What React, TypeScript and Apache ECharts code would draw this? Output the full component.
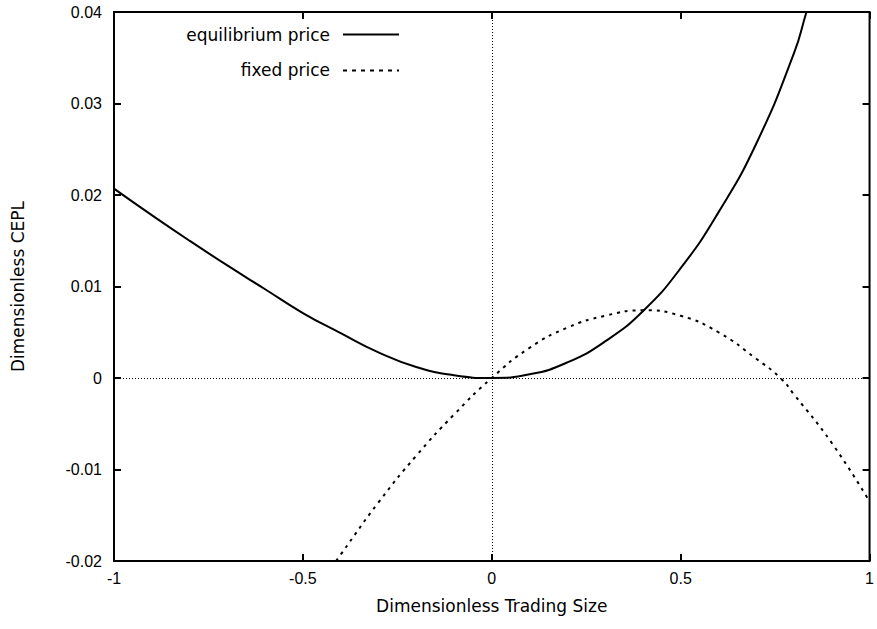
import React, { useEffect, useRef } from "react";
import * as echarts from "echarts";

const eqX = [-1.0, -0.9, -0.8, -0.7, -0.6, -0.5, -0.4, -0.3, -0.2, -0.1, 0, 0.1, 0.2, 0.3, 0.4, 0.5, 0.6, 0.7, 0.8, 0.833, 0.85];
const eqY = [0.0207, 0.0178, 0.0150, 0.0123, 0.0097, 0.0071, 0.0049, 0.0028, 0.0012, 0.0003, 0, 0.0004, 0.0017, 0.0040, 0.0073, 0.0120, 0.0181, 0.0256, 0.0355, 0.0400, 0.0422];

const fixedX = [-0.412, -0.4, -0.3, -0.2, -0.1, 0, 0.1, 0.2, 0.3, 0.4, 0.5, 0.6, 0.7, 0.764, 0.8, 0.9, 1.0];
const fixedY = [-0.0200, -0.0193, -0.0136, -0.0085, -0.0040, 0, 0.0033, 0.0055, 0.0068, 0.0074, 0.0068, 0.0050, 0.0021, 0.0, -0.0018, -0.0071, -0.0135];

const xTicks = [-1, -0.5, 0, 0.5, 1];
const yTicks = [-0.02, -0.01, 0, 0.01, 0.02, 0.03, 0.04];

const seriesNames = ["equilibrium price", "fixed price"];
const xTitle = "Dimensionless Trading Size";
const yTitle = "Dimensionless CEPL";

const FONT = "'Liberation Sans', Arial, Helvetica, sans-serif";
const TFONT = "'DejaVu Sans', sans-serif";
const FS = 16;
const TFS = 17;
const TICK = 7;
const GRID = { left: 114, right: 6, top: 12, bottom: 68 };
const W = 877;
const H = 629;

export default function App() {
  const ref = useRef<HTMLDivElement>(null);
  useEffect(() => {
    if (!ref.current) return;
    const chart = echarts.init(ref.current, null, { renderer: "svg" });
    const xMin = xTicks[0], xMax = xTicks[xTicks.length - 1];
    const yMin = yTicks[0], yMax = yTicks[yTicks.length - 1];
    // tick length expressed in data units so the axes' scales place the ticks
    const tx = (TICK * (xMax - xMin)) / (W - GRID.left - GRID.right);
    const ty = (TICK * (yMax - yMin)) / (H - GRID.top - GRID.bottom);
    const tickLines: any[] = [];
    xTicks.forEach((v) => {
      tickLines.push([{ coord: [v, yMin] }, { coord: [v, yMin + ty] }]);
      tickLines.push([{ coord: [v, yMax] }, { coord: [v, yMax - ty] }]);
    });
    yTicks.forEach((v) => {
      tickLines.push([{ coord: [xMin, v] }, { coord: [xMin + tx, v] }]);
      tickLines.push([{ coord: [xMax, v] }, { coord: [xMax - tx, v] }]);
    });
    chart.setOption({
      animation: false,
      backgroundColor: "#fff",
      textStyle: { fontFamily: FONT },
      grid: { ...GRID, show: true, borderColor: "#000", borderWidth: 2, backgroundColor: "transparent" },
      xAxis: {
        type: "value", min: xMin, max: xMax, interval: 0.5,
        splitLine: { show: false },
        axisLine: { show: false, onZero: false },
        axisTick: { show: false },
        axisLabel: { color: "#000", fontSize: FS, fontFamily: FONT, margin: 9 },
        name: xTitle,
        nameLocation: "middle",
        nameGap: 36,
        nameTextStyle: { color: "#000", fontSize: TFS, fontFamily: TFONT },
      },
      yAxis: {
        type: "value", min: yMin, max: yMax, interval: 0.01,
        splitLine: { show: false },
        axisLine: { show: false, onZero: false },
        axisTick: { show: false },
        axisLabel: { color: "#000", fontSize: FS, fontFamily: FONT, margin: 12 },
        name: yTitle,
        nameLocation: "middle",
        nameGap: 88,
        nameTextStyle: { color: "#000", fontSize: TFS, fontFamily: TFONT },
      },
      series: [
        {
          name: seriesNames[0],
          type: "line",
          data: eqX.map((x, i) => [x, eqY[i]]),
          smooth: true,
          clip: true,
          showSymbol: false,
          lineStyle: { color: "#000", width: 2 },
          itemStyle: { color: "#000" },
          markLine: {
            silent: true,
            symbol: "none",
            label: { show: false },
            lineStyle: { color: "#000", width: 1, type: [1, 2] },
            data: [{ xAxis: 0 }, { yAxis: 0 }],
          },
          z: 3,
        },
        {
          name: seriesNames[1],
          type: "line",
          data: fixedX.map((x, i) => [x, fixedY[i]]),
          smooth: true,
          clip: true,
          showSymbol: false,
          lineStyle: { color: "#000", width: 2, type: [3, 5] },
          itemStyle: { color: "#000" },
          markLine: {
            silent: true,
            symbol: "none",
            label: { show: false },
            lineStyle: { color: "#000", width: 2, type: "solid" },
            data: tickLines,
          },
          z: 3,
        },
      ],
      graphic: [
        { type: "text", x: 330, y: 35, style: { text: seriesNames[0], fill: "#000", font: `${TFS}px ${TFONT}`, textAlign: "right", textVerticalAlign: "middle" } },
        { type: "line", shape: { x1: 343, y1: 34.5, x2: 399, y2: 34.5 }, style: { stroke: "#000", lineWidth: 2 } },
        { type: "text", x: 330, y: 70, style: { text: seriesNames[1], fill: "#000", font: `${TFS}px ${TFONT}`, textAlign: "right", textVerticalAlign: "middle" } },
        { type: "line", shape: { x1: 343, y1: 70.5, x2: 399, y2: 70.5 }, style: { stroke: "#000", lineWidth: 2, lineDash: [4, 5] } },
      ],
    });
    return () => chart.dispose();
  }, []);
  return <div ref={ref} style={{ position: "fixed", left: 0, top: 0, width: 877, height: 629 }} />;
}
